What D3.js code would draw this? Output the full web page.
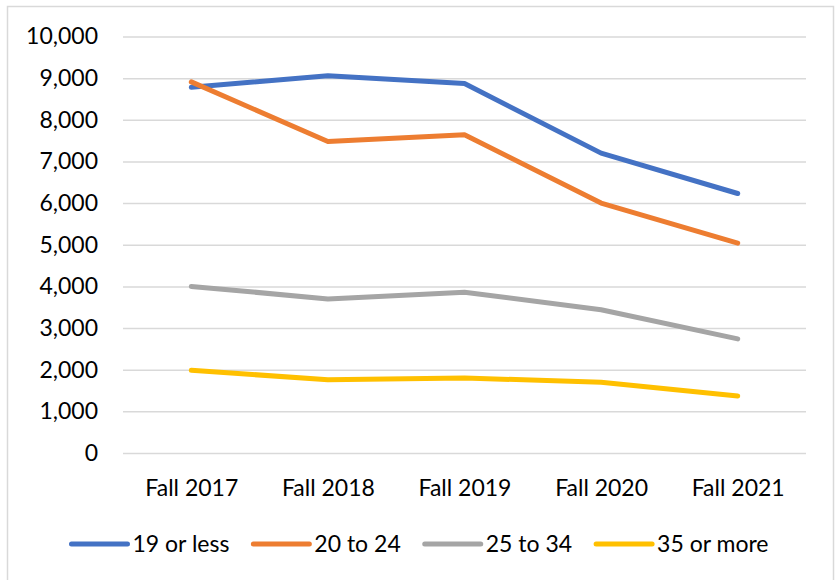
<!DOCTYPE html>
<html>
<head>
<meta charset="utf-8">
<script src="https://cdn.jsdelivr.net/npm/d3@7"></script>
<style>
  body { margin: 0; background: #fff; }
  text { font-family: Lato, "Open Sans", sans-serif; fill: #000; }
</style>
</head>
<body>
<svg width="836" height="580"></svg>
<script>
const terms = ["Fall 2017", "Fall 2018", "Fall 2019", "Fall 2020", "Fall 2021"]
const seriesNames = ["19 or less", "20 to 24", "25 to 34", "35 or more"]
const under19 = [8780, 9060, 8870, 7200, 6230]
const age20to24 = [8910, 7480, 7640, 6000, 5040]
const age25to34 = [4000, 3700, 3860, 3440, 2740]
const over35 = [1985, 1760, 1800, 1700, 1370]
const yTicks = [0, 1000, 2000, 3000, 4000, 5000, 6000, 7000, 8000, 9000, 10000]
const colors = ["#4472C4", "#ED7D31", "#A5A5A5", "#FFC000"]

const svg = d3.select("svg")
const width = +svg.attr("width")
const height = +svg.attr("height")

const series = [under19, age20to24, age25to34, over35].map((values, i) => ({
  name: seriesNames[i],
  color: colors[i],
  values: values.map((v, j) => ({ term: terms[j], value: v }))
}))

const margin = { top: 36.5, right: 30, bottom: 127, left: 123 }
const innerWidth = width - margin.left - margin.right
const innerHeight = height - margin.top - margin.bottom

// chart frame
svg.append("rect")
  .attr("x", 7.5)
  .attr("y", 6.5)
  .attr("width", 826)
  .attr("height", 600)
  .attr("fill", "none")
  .attr("stroke", "#D9D9D9")
  .attr("stroke-width", 1.5)

const g = svg.append("g")
  .attr("transform", `translate(${margin.left}, ${margin.top})`)

const xScale = d3.scalePoint()
  .domain(terms)
  .range([0, innerWidth])
  .padding(0.5)

const yScale = d3.scaleLinear()
  .domain([0, 10000])
  .range([innerHeight, 0])

const yAxis = d3.axisLeft(yScale)
  .tickValues(yTicks)
  .tickFormat(d3.format(","))
  .tickSize(-innerWidth)
  .tickPadding(25)

const yAxisG = g.append("g").call(yAxis)
yAxisG.selectAll(".domain").remove()
yAxisG.selectAll(".tick line")
  .attr("stroke", "#D9D9D9")
  .attr("stroke-width", 1.5)
yAxisG.selectAll(".tick text")
  .attr("font-size", 23)
  .attr("fill", "#000")

const xAxis = d3.axisBottom(xScale)
  .tickSize(0)
  .tickPadding(27)

const xAxisG = g.append("g")
  .attr("transform", `translate(0, ${innerHeight})`)
  .call(xAxis)
xAxisG.selectAll(".domain").remove()
xAxisG.selectAll(".tick text")
  .attr("font-size", 23)
  .attr("fill", "#000")

const line = d3.line()
  .x(d => xScale(d.term))
  .y(d => yScale(d.value))

g.selectAll(".series").data(series)
  .enter().append("path")
  .attr("class", "series")
  .attr("d", d => line(d.values))
  .attr("fill", "none")
  .attr("stroke", d => d.color)
  .attr("stroke-width", 5)
  .attr("stroke-linecap", "round")
  .attr("stroke-linejoin", "round")

// legend, centred under the chart
const legend = svg.append("g")
const swatch = 56
const gap = 5
const itemGap = 24
const items = legend.selectAll("g").data(series)
  .enter().append("g")

items.append("line")
  .attr("x1", 0)
  .attr("x2", swatch)
  .attr("y1", 0)
  .attr("y2", 0)
  .attr("stroke", d => d.color)
  .attr("stroke-width", 5)
  .attr("stroke-linecap", "round")

items.append("text")
  .attr("x", swatch + gap)
  .attr("y", 8)
  .attr("font-size", 23)
  .text(d => d.name)

let offset = 0
items.each(function () {
  const w = swatch + gap + d3.select(this).select("text").node().getComputedTextLength()
  d3.select(this).attr("transform", `translate(${offset}, 0)`)
  offset += w + itemGap
})
const legendWidth = offset - itemGap
legend.attr("transform", `translate(${420 - legendWidth / 2}, 544)`)
</script>
</body>
</html>
